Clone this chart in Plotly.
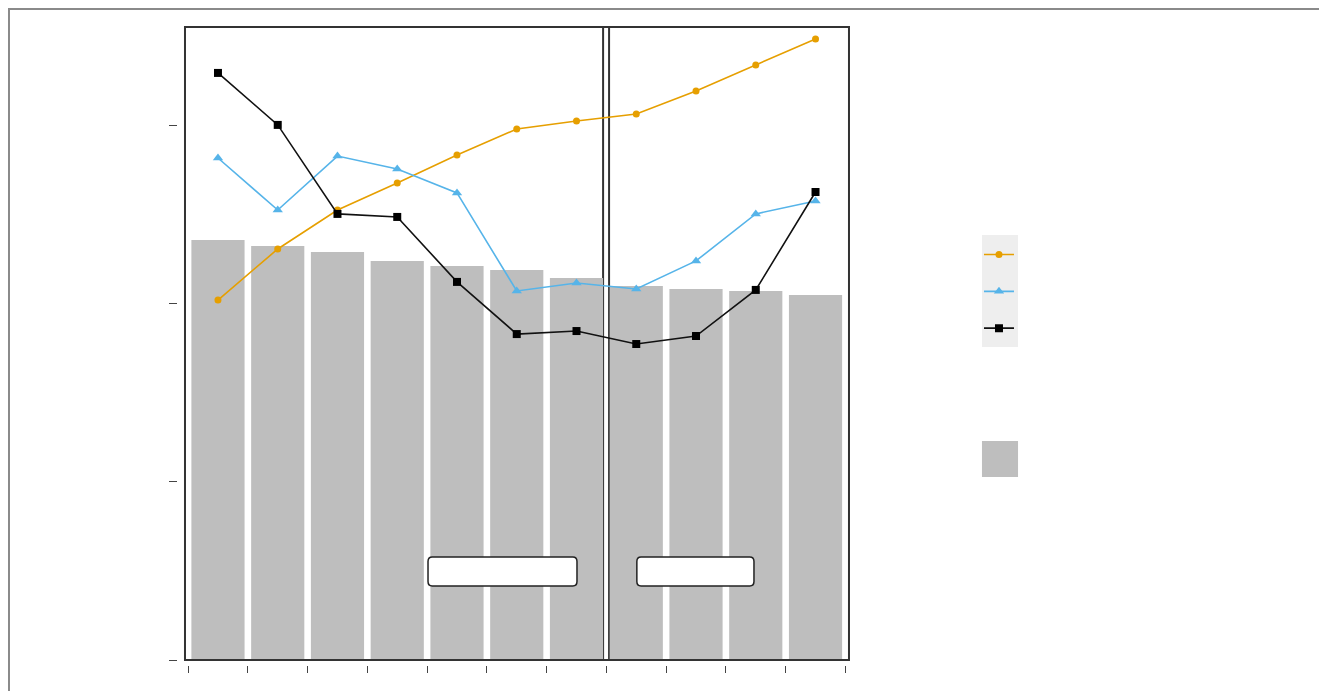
import plotly.graph_objects as go

# ---- data ----
categories = list(range(11))
bar_values = [23.6, 23.26, 22.92, 22.42, 22.13, 21.91, 21.46, 21.01, 20.84, 20.73, 20.51]
orange_values = [20.22, 23.09, 25.28, 26.80, 28.37, 29.83, 30.28, 30.67, 31.97, 33.43, 34.89]
blue_values = [28.20, 25.28, 28.31, 27.58, 26.24, 20.73, 21.18, 20.84, 22.42, 25.06, 25.79]
black_values = [32.98, 30.06, 25.06, 24.89, 21.24, 18.31, 18.48, 17.75, 18.20, 20.79, 26.29]
x_tick_positions = [i - 0.5 for i in range(12)]
y_tick_values = [0, 10, 20, 30]
y_range = [0, 35.56]
x_range = [-0.552, 10.56]

fig = go.Figure()

fig.add_trace(go.Bar(
    x=categories, y=bar_values, marker=dict(color="#bebebe", line=dict(width=0)),
    width=0.89, showlegend=False, hoverinfo="skip"))

fig.add_trace(go.Scatter(
    x=categories, y=orange_values, mode="lines+markers", name="",
    line=dict(color="#E69F00", width=1.6), marker=dict(symbol="circle", size=7, color="#E69F00")))
fig.add_trace(go.Scatter(
    x=categories, y=blue_values, mode="lines+markers", name="",
    line=dict(color="#56B4E9", width=1.6), marker=dict(symbol="triangle-up", size=9, color="#56B4E9")))
fig.add_trace(go.Scatter(
    x=categories, y=black_values, mode="lines+markers", name="",
    line=dict(color="#111111", width=1.6), marker=dict(symbol="square", size=8, color="#000000")))


def rounded_box(x0, x1, y0, y1, rx, ry):
    return (f"M {x0+rx},{y0} L {x1-rx},{y0} Q {x1},{y0} {x1},{y0+ry} "
            f"L {x1},{y1-ry} Q {x1},{y1} {x1-rx},{y1} L {x0+rx},{y1} "
            f"Q {x0},{y1} {x0},{y1-ry} L {x0},{y0+ry} Q {x0},{y0} {x0+rx},{y0} Z")


shapes = [
    # outer frame of the image
    dict(type="rect", xref="paper", yref="paper", x0=-0.2127, x1=1.6338, y0=-0.08, y1=1.028,
         line=dict(color="#8a8a8a", width=2), fillcolor="rgba(0,0,0,0)", layer="below"),
    # legend background
    dict(type="rect", xref="paper", yref="paper", x0=1.1577, x1=1.2085, y0=0.5031, y1=0.677,
         fillcolor="#eeeeee", line=dict(width=0), layer="below"),
    # panel divider (double line)
    dict(type="line", xref="x", yref="y domain", x0=6.445, x1=6.445, y0=0, y1=1,
         line=dict(color="#333333", width=2), layer="below"),
    dict(type="line", xref="x", yref="y domain", x0=6.545, x1=6.545, y0=0, y1=1,
         line=dict(color="#333333", width=2), layer="below"),
    # plot frame
    dict(type="rect", xref="x domain", yref="y domain", x0=0, x1=1, y0=0, y1=1,
         line=dict(color="#333333", width=2), layer="above"),
    # rounded label boxes
    dict(type="path", xref="x", yref="y", path=rounded_box(3.515, 6.008, 4.16, 5.79, 0.07, 0.25),
         fillcolor="white", line=dict(color="#222222", width=1.5), layer="above"),
    dict(type="path", xref="x", yref="y", path=rounded_box(7.01, 8.97, 4.16, 5.79, 0.07, 0.25),
         fillcolor="white", line=dict(color="#222222", width=1.5), layer="above"),
    # bar legend key
    dict(type="rect", xref="paper", yref="paper", x0=1.1577, x1=1.2085, y0=0.3012, y1=0.3571,
         fillcolor="#bebebe", line=dict(width=0)),
]

fig.update_layout(
    width=1327, height=691,
    margin=dict(l=152, r=465, t=19, b=28),
    paper_bgcolor="white", plot_bgcolor="rgba(0,0,0,0)",
    bargap=0.11,
    shapes=shapes,
    showlegend=True,
    legend=dict(x=1.1535, y=0.683, xanchor="left", yanchor="top", bgcolor="rgba(0,0,0,0)",
                font=dict(size=26, color="#eeeeee"), borderwidth=0,
                itemwidth=30, tracegroupgap=0),
    xaxis=dict(domain=[0.0352, 0.9704], range=x_range, tickmode="array", tickvals=x_tick_positions,
               showticklabels=False, ticks="outside", ticklen=7, tickcolor="#444", tickwidth=1,
               showgrid=False, zeroline=False, showline=False, anchor="free", position=0.0093),
    yaxis=dict(domain=[0.01708, 1], range=y_range, tickmode="array", tickvals=y_tick_values,
               showticklabels=False, ticks="outside", ticklen=8, tickcolor="#444", tickwidth=1,
               showgrid=False, zeroline=False, showline=False, anchor="free", position=0.0239),
    yaxis2=dict(domain=[0.01708, 1], range=y_range, overlaying="y", side="right", tickmode="array",
                tickvals=y_tick_values, showticklabels=False, ticks="outside", ticklen=7,
                tickcolor="#444", tickwidth=1, showgrid=False, zeroline=False, showline=False,
                anchor="free", position=0.983),
)

fig.write_html("out.html")
